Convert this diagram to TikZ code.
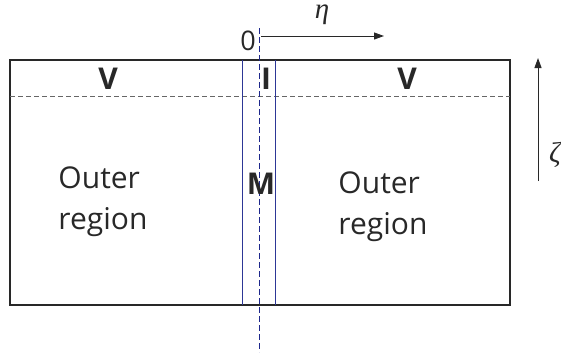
\documentclass[tikz,border=0pt]{standalone}
\usepackage{fontspec}
\setmainfont{Open Sans}
\newfontfamily\greekfont{Liberation Serif}
\usetikzlibrary{arrows.meta}
\definecolor{layerblue}{RGB}{45,55,150}
\definecolor{axisblue}{RGB}{30,40,140}
\definecolor{ink}{RGB}{40,40,40}
\begin{document}
\begin{tikzpicture}[x=1pt, y=-1pt,
    region/.style={draw=ink, line width=1.8pt},
    layer/.style={draw=layerblue, line width=1pt},
    axisline/.style={draw=axisblue, line width=0.9pt, dash pattern=on 6pt off 3pt},
    split/.style={draw=black!60, line width=0.9pt, dash pattern=on 5pt off 3pt},
    arr/.style={-{Triangle[length=10pt, width=7pt]}, line width=1pt, draw=ink},
    lbl/.style={font=\fontsize{30}{41}\selectfont, align=left, text=ink},
    bold/.style={font=\fontsize{30}{32}\selectfont\bfseries, text=ink, inner sep=0pt},
    sym/.style={font=\fontsize{27}{29}\selectfont, text=ink, inner sep=0pt},
    greek/.style={font=\fontsize{29}{31}\selectfont\greekfont\itshape, text=ink,
                  inner sep=0pt, text height=13pt, text depth=6pt, anchor=base}
]
\useasboundingbox (0,0) rectangle (561,354);

% outer box and layers
\draw[region] (10,60) rectangle (510,305);
\draw[split] (10,96) -- (510,96);
\draw[layer] (242,60) -- (242,305);
\draw[layer] (275,60) -- (275,305);

\coordinate (top) at (259,28);
\coordinate (bot) at (259,352);
\draw[axisline] (top) -- (bot);

% labels
\node[bold] (V1) at (108,79) {V};
\node[bold] (I)  at (266,79) {I};
\node[bold] (V2) at (407,79) {V};
\node[bold] (M)  at (261,184) {M};
\node[lbl]  (O1) at (103,202) {Outer\\region};
\node[lbl]  (O2) at (383,207) {Outer\\region};

% axes
\node[sym] (zero) at (248,41) {0};
\coordinate (e0) at (261,36);
\coordinate (e1) at (384,36);
\draw[arr] (e0) -- (e1);
\node[greek] (eta) at (322,18) {η};

\coordinate (z0) at (538,181);
\coordinate (z1) at (538,58);
\draw[arr] (z0) -- (z1);
\node[greek, anchor=base west] (zeta) at (549,162) {ζ};

\end{tikzpicture}
\end{document}
